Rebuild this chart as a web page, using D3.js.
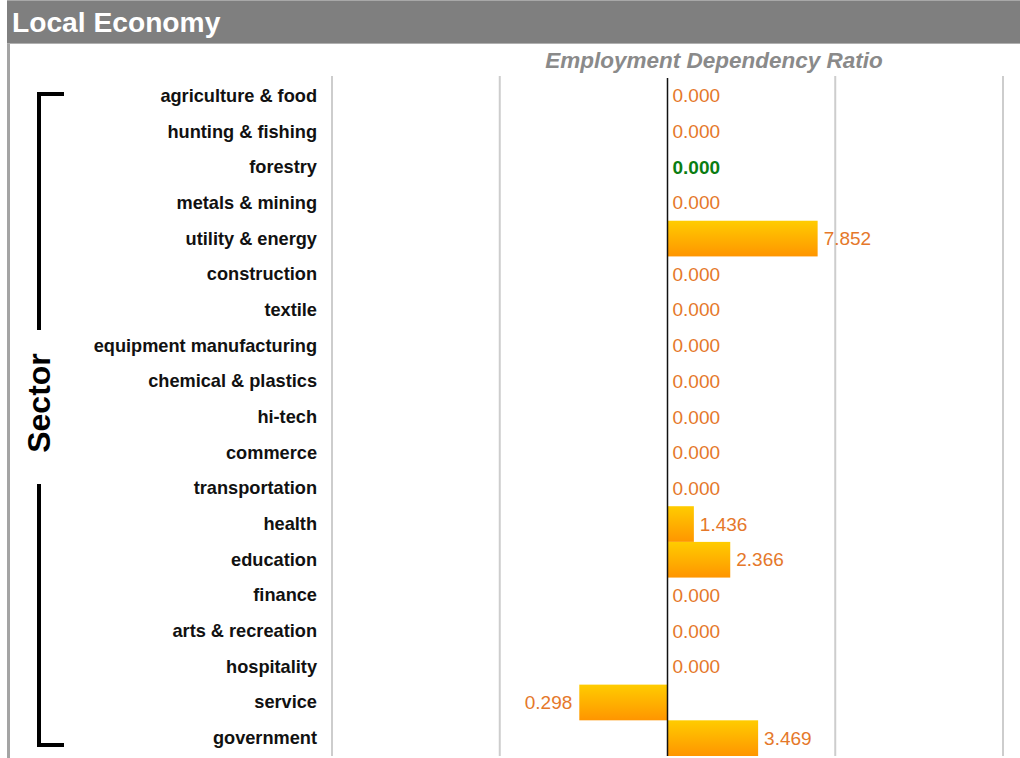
<!DOCTYPE html>
<html>
<head>
<meta charset="utf-8">
<script src="https://cdn.jsdelivr.net/npm/d3@7"></script>
<style>
  html, body { margin: 0; padding: 0; background: #fff; }
  svg { display: block; }
</style>
</head>
<body>
<svg id="chart" width="1020" height="758"></svg>
<script>
// Sector list, top to bottom
const sectors = [
  "agriculture & food", "hunting & fishing", "forestry", "metals & mining",
  "utility & energy", "construction", "textile", "equipment manufacturing",
  "chemical & plastics", "hi-tech", "commerce", "transportation", "health",
  "education", "finance", "arts & recreation", "hospitality", "service",
  "government"
];
// Employment dependency ratio per sector (0 = no employment recorded)
const ratios = [
  0, 0, 0, 0, 7.852, 0, 0, 0, 0, 0, 0, 0, 1.436, 2.366, 0, 0, 0, 0.298, 3.469
];
// Highlighted sector
const highlighted = ["forestry"];
// Log axis gridline values
const gridValues = [0.01, 0.1, 1, 10, 100];

const title = "Local Economy";
const subtitle = "Employment Dependency Ratio";
const axisTitle = "Sector";

const svg = d3.select("#chart");
const W = 1020, H = 758;

const plot = { left: 332, right: 1003, top: 78, bottom: 756 };

const x = d3.scaleLog().domain([0.01, 100]).range([plot.left, plot.right]);
const y = d3.scaleBand().domain(sectors).range([plot.top, plot.bottom]).padding(0);

// Bar gradient
const defs = svg.append("defs");
const grad = defs.append("linearGradient")
  .attr("id", "barGrad").attr("x1", 0).attr("y1", 0).attr("x2", 0).attr("y2", 1);
grad.append("stop").attr("offset", "0%").attr("stop-color", "#ffcc00");
grad.append("stop").attr("offset", "100%").attr("stop-color", "#ff9500");

// Header band
svg.append("rect").attr("x", 7).attr("y", 0).attr("width", W - 7).attr("height", 44)
  .attr("fill", "#7f7f7f");
svg.append("line").attr("x1", 7).attr("x2", W).attr("y1", 0.5).attr("y2", 0.5)
  .attr("stroke", "#a8a8a8").attr("stroke-width", 1);
svg.append("line").attr("x1", 7).attr("x2", W).attr("y1", 43.5).attr("y2", 43.5)
  .attr("stroke", "#b0b0b0").attr("stroke-width", 1);
// Left panel border
svg.append("rect").attr("x", 7).attr("y", 44).attr("width", 3).attr("height", H - 44)
  .attr("fill", "#a4a4a4");

svg.append("text")
  .attr("x", 12).attr("y", 32)
  .attr("font-family", "Liberation Sans, Arial, sans-serif")
  .attr("font-weight", "bold").attr("font-size", 28.2)
  .attr("fill", "#ffffff")
  .text(title);

svg.append("text")
  .attr("x", 714).attr("y", 68)
  .attr("text-anchor", "middle")
  .attr("font-family", "Liberation Sans, Arial, sans-serif")
  .attr("font-weight", "bold").attr("font-style", "italic").attr("font-size", 22.5)
  .attr("fill", "#8a8a8a")
  .text(subtitle);

// Gridlines
svg.append("g").selectAll("line")
  .data(gridValues.filter(v => v !== 1))
  .join("line")
  .attr("x1", d => x(d)).attr("x2", d => x(d))
  .attr("y1", plot.top - 2).attr("y2", plot.bottom)
  .attr("stroke", "#cdcdcd").attr("stroke-width", 2);

// Bars (drawn from ratio 1 on the log scale)
const rows = sectors.map((s, i) => ({ sector: s, value: ratios[i] }));
svg.append("g").selectAll("rect")
  .data(rows.filter(d => d.value > 0))
  .join("rect")
  .attr("x", d => Math.min(x(1), x(d.value)))
  .attr("width", d => Math.abs(x(d.value) - x(1)))
  .attr("y", d => y(d.sector))
  .attr("height", y.bandwidth())
  .attr("fill", "url(#barGrad)");

// Zero axis
svg.append("line")
  .attr("x1", x(1)).attr("x2", x(1))
  .attr("y1", plot.top).attr("y2", plot.bottom)
  .attr("stroke", "#111").attr("stroke-width", 1.5);

// Value labels
svg.append("g").selectAll("text")
  .data(rows)
  .join("text")
  .attr("x", d => {
    if (d.value === 0) return x(1) + 5;
    return d.value >= 1 ? x(d.value) + 6 : x(d.value) - 7;
  })
  .attr("y", d => y(d.sector) + y.bandwidth() / 2 + 6.5)
  .attr("text-anchor", d => (d.value > 0 && d.value < 1) ? "end" : "start")
  .attr("font-family", "Liberation Sans, Arial, sans-serif")
  .attr("font-size", 19)
  .attr("font-weight", d => highlighted.includes(d.sector) ? "bold" : "normal")
  .attr("fill", d => highlighted.includes(d.sector) ? "#0a7d12" : "#e5782a")
  .text(d => d3.format(".3f")(d.value));

// Sector labels
svg.append("g").selectAll("text")
  .data(sectors)
  .join("text")
  .attr("x", 317)
  .attr("y", d => y(d) + y.bandwidth() / 2 + 6)
  .attr("text-anchor", "end")
  .attr("font-family", "Liberation Sans, Arial, sans-serif")
  .attr("font-weight", "bold").attr("font-size", 18.2)
  .attr("fill", "#111")
  .text(d => d);

// Sector bracket
const bx = 39, bTop = 94, bBot = 745, gapTop = 330, gapBot = 484;
const bracket = svg.append("g").attr("stroke", "#000").attr("stroke-width", 4).attr("fill", "none");
bracket.append("path").attr("d", `M64,${bTop} H${bx} V${gapTop}`);
bracket.append("path").attr("d", `M${bx},${gapBot} V${bBot} H64`);

svg.append("text")
  .attr("transform", `translate(50,403) rotate(-90)`)
  .attr("text-anchor", "middle")
  .attr("font-family", "Liberation Sans, Arial, sans-serif")
  .attr("font-weight", "bold").attr("font-size", 32)
  .attr("fill", "#000")
  .text(axisTitle);
</script>
</body>
</html>
